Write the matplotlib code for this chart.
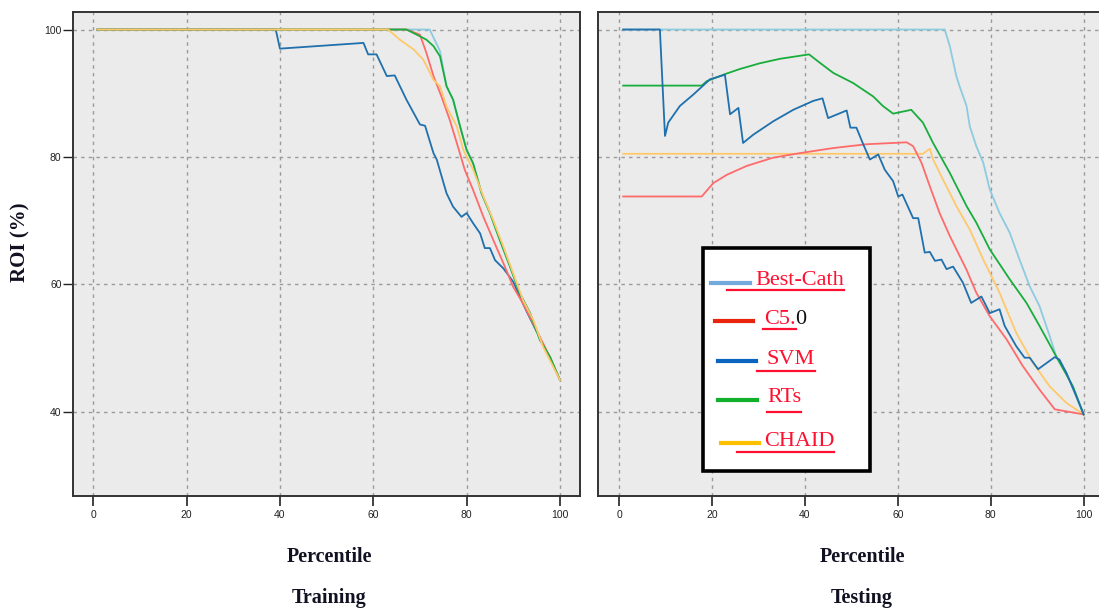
import matplotlib
matplotlib.use("Agg")
import matplotlib.pyplot as plt
from matplotlib.lines import Line2D
from matplotlib.patches import Rectangle

# ---------------- data ----------------
series_names = ["Best-Cath", "C5.0", "SVM", "RTs", "CHAID"]
x_ticks = [0, 20, 40, 60, 80, 100]
y_ticks = [40, 60, 80, 100]
y_tick_labels = ["40", "60", "80", "100"]

# Training panel
train_best_x = [0.9, 72.1, 74.3, 75.7, 77.1, 78.6, 80.0, 81.4, 83.2, 85.0, 87.1, 89.3, 91.4, 93.6, 95.7, 97.9, 100]
train_best_y = [100, 100, 96.6, 91.1, 89.0, 84.8, 81.1, 79.0, 74.3, 71.2, 67.0, 62.8, 58.6, 55.5, 51.3, 48.6, 45.0]

train_c50_x = [0.9, 67.1, 70.0, 71.4, 72.9, 74.6, 76.4, 77.9, 79.6, 81.4, 83.6, 85.7, 87.9, 90.0, 92.1, 95.0, 97.1, 100]
train_c50_y = [100, 100, 99.2, 96.3, 92.7, 89.5, 85.8, 82.2, 78.0, 74.8, 70.6, 67.0, 63.3, 59.6, 57.0, 52.8, 49.7, 45.0]

train_svm_x = [0.9, 39.1, 40.0, 57.9, 58.9, 60.7, 62.9, 64.6, 67.1, 70.0, 71.1, 72.9, 73.6, 75.7, 77.1, 78.9, 80.0,
               81.4, 82.9, 83.9, 85.0, 86.1, 87.9, 90.0, 91.4, 92.9, 95.0]
train_svm_y = [100, 100, 97.0, 97.9, 96.1, 96.1, 92.7, 92.8, 89.0, 85.1, 84.9, 80.6, 79.6, 74.3, 72.2, 70.6, 71.2,
               69.6, 68.0, 65.7, 65.7, 63.8, 62.5, 60.4, 58.1, 55.7, 52.6]

train_rts_x = [0.9, 67.1, 69.3, 71.4, 72.9, 74.3, 75.7, 77.1, 78.6, 80.0, 81.4, 83.2, 85.0, 87.1, 89.3, 91.4, 93.6, 95.7, 97.9, 100]
train_rts_y = [100, 100, 99.2, 98.4, 97.4, 95.8, 91.1, 89.0, 84.8, 81.1, 79.0, 74.3, 71.2, 67.0, 62.8, 58.6, 55.5, 51.3, 48.6, 45.0]

train_chaid_x = [0.9, 63.2, 65.7, 68.6, 70.7, 72.9, 74.3, 75.7, 77.9, 79.3, 81.4, 83.6, 85.7, 87.9, 90.0, 92.1, 94.3, 96.4, 100]
train_chaid_y = [100, 100, 98.4, 96.9, 95.3, 92.1, 91.1, 87.9, 84.8, 81.1, 78.0, 73.8, 70.1, 65.9, 61.7, 57.5, 54.4, 50.2, 45.0]

# Testing panel
test_best_x = [0.9, 70.1, 71.2, 72.6, 73.3, 74.8, 75.5, 76.9, 78.4, 79.8, 81.9, 84.1, 86.2, 88.4, 90.5, 92.7, 94.1, 96.3, 100]
test_best_y = [100, 100, 97.4, 92.7, 91.1, 88.0, 84.8, 81.7, 79.1, 74.9, 71.2, 68.1, 63.9, 59.7, 56.6, 51.9, 48.7, 46.1, 39.6]

test_c50_x = [0.9, 17.8, 20.3, 23.2, 27.5, 33.2, 38.9, 46.1, 53.3, 61.9, 63.3, 65.1, 66.9, 69.0, 71.2, 74.8, 76.9,
              79.8, 83.4, 86.9, 90.5, 93.8, 100]
test_c50_y = [73.8, 73.8, 75.9, 77.2, 78.6, 79.9, 80.6, 81.4, 82.0, 82.3, 81.7, 79.1, 75.4, 71.2, 67.6, 62.3, 58.7,
              55.0, 51.4, 47.2, 43.5, 40.4, 39.6]

test_svm_x = [0.9, 8.8, 9.9, 10.6, 13.1, 16.0, 19.6, 22.8, 23.9, 25.7, 26.7, 28.9, 33.2, 37.5, 41.8, 43.8, 45.0,
              49.0, 49.8, 51.1, 52.5, 54.0, 55.8, 57.2, 59.0, 60.1, 61.0, 63.3, 64.4, 65.8, 66.9, 68.0, 69.4,
              70.5, 71.9, 74.0, 75.8, 78.0, 79.8, 81.9, 83.0, 85.5, 87.3, 88.4, 90.2, 93.8, 94.8, 96.3, 98.4, 100]
test_svm_y = [100, 100, 83.3, 85.4, 88.0, 89.8, 92.2, 92.9, 86.7, 87.7, 82.2, 83.5, 85.6, 87.4, 88.8, 89.2, 86.1,
              87.3, 84.6, 84.6, 82.1, 79.6, 80.4, 78.0, 76.2, 73.8, 74.1, 70.4, 70.4, 65.0, 65.1, 63.7, 63.9,
              62.4, 62.8, 60.3, 57.1, 58.1, 55.5, 56.1, 53.5, 50.3, 48.5, 48.5, 46.7, 48.6, 48.2, 46.1, 42.5, 39.6]

test_rts_x = [0.9, 17.8, 18.9, 22.8, 26.0, 30.3, 34.6, 38.2, 40.9, 43.2, 46.1, 50.4, 54.7, 56.8, 59.0, 62.9, 65.4,
              67.6, 71.2, 74.8, 76.9, 79.8, 84.1, 87.7, 90.5, 94.1, 97.7, 100]
test_rts_y = [91.2, 91.2, 91.9, 93.0, 93.8, 94.7, 95.4, 95.8, 96.1, 94.8, 93.2, 91.6, 89.5, 88.0, 86.8, 87.4, 85.4,
              82.2, 77.5, 72.3, 69.7, 65.5, 60.8, 57.1, 53.5, 48.7, 44.0, 39.6]

test_chaid_x = [0.9, 65.4, 66.9, 67.6, 69.7, 72.6, 75.5, 78.4, 81.9, 85.5, 89.1, 92.7, 96.3, 100]
test_chaid_y = [80.5, 80.5, 81.3, 79.6, 76.5, 72.3, 68.6, 63.9, 58.7, 52.4, 47.7, 44.0, 41.4, 39.6]

# ---------------- style ----------------
line_colors = {"Best-Cath": "#8ccbe0", "C5.0": "#ff6b6b", "SVM": "#1f70ac", "RTs": "#18ad3c", "CHAID": "#ffc96b"}
legend_colors = {"Best-Cath": "#74a9dc", "C5.0": "#e8240c", "SVM": "#0a64c0", "RTs": "#10b02a", "CHAID": "#ffc000"}
legend_red = "#ff1030"

W, H = 1099, 613
fig = plt.figure(figsize=(W / 100, H / 100), dpi=100)
fig.patch.set_facecolor("white")

def fx(px):
    return px / W

def fy(py):
    return (H - py) / H

ax_bottom = fy(496)
ax_height = (496 - 12) / H
ax1 = fig.add_axes([fx(72.7), ax_bottom, (580 - 72.7) / W, ax_height])
ax2 = fig.add_axes([fx(598), ax_bottom, 507 / W, ax_height])

tick_font = ["Liberation Sans Narrow", "Liberation Sans", "DejaVu Sans"]

for ax, xl in ((ax1, (-4.41, 104.3)), (ax2, (-4.52, 104.6))):
    ax.set_facecolor("#ebebeb")
    ax.set_xlim(*xl)
    ax.set_ylim(26.8, 102.75)
    ax.set_xticks(x_ticks)
    ax.set_yticks(y_ticks)
    ax.set_yticklabels(y_tick_labels)
    ax.grid(True, color="#9a9a9a", linestyle=(0, (2.5, 3)), linewidth=1.0)
    ax.set_axisbelow(True)
    for s in ax.spines.values():
        s.set_color("#333333")
        s.set_linewidth(1.4)
    ax.tick_params(axis="x", direction="out", length=7, width=1.2, pad=3, colors="#222222", labelsize=7.5)
    ax.tick_params(axis="y", direction="out", length=7, width=1.0, pad=1, colors="#222222", labelsize=7.5)
    for lab in ax.get_xticklabels() + ax.get_yticklabels():
        lab.set_family(tick_font)

ax2.tick_params(axis="y", left=False, labelleft=False)

lw = 1.3
ax1.plot(train_best_x, train_best_y, color=line_colors["Best-Cath"], lw=lw)
ax1.plot(train_svm_x, train_svm_y, color=line_colors["SVM"], lw=lw)
ax1.plot(train_c50_x, train_c50_y, color=line_colors["C5.0"], lw=lw)
ax1.plot(train_rts_x, train_rts_y, color=line_colors["RTs"], lw=lw)
ax1.plot(train_chaid_x, train_chaid_y, color=line_colors["CHAID"], lw=lw)

ax2.plot(test_best_x, test_best_y, color=line_colors["Best-Cath"], lw=lw)
ax2.plot(test_chaid_x, test_chaid_y, color=line_colors["CHAID"], lw=lw)
ax2.plot(test_c50_x, test_c50_y, color=line_colors["C5.0"], lw=lw)
ax2.plot(test_rts_x, test_rts_y, color=line_colors["RTs"], lw=lw)
ax2.plot(test_svm_x, test_svm_y, color=line_colors["SVM"], lw=lw)

serif = ["Liberation Serif", "DejaVu Serif"]
fig.text(fx(20), fy(242), "ROI (%)", rotation=90, ha="center", va="center",
         fontsize=15, fontweight="bold", family=serif, color="#111122")
for cx, sub in ((329, "Training"), (862, "Testing")):
    fig.text(fx(cx), fy(557), "Percentile", ha="center", va="center",
             fontsize=14.5, fontweight="bold", family=serif, color="#111122")
    fig.text(fx(cx), fy(598), sub, ha="center", va="center",
             fontsize=14.5, fontweight="bold", family=serif, color="#111122")

# ---------------- custom legend box ----------------
box = Rectangle((fx(703), fy(471)), (870 - 703) / W, (471 - 248) / H, transform=fig.transFigure,
                facecolor="white", edgecolor="black", linewidth=2.6, zorder=10)
fig.add_artist(box)

# (line start px, line end px, line y px, text x px, underline start px, underline y px)
legend_layout = {
    "Best-Cath": (711, 750, 283, 755, 727, 290),
    "C5.0": (715, 753, 321, 764, 763, 329),
    "SVM": (718, 756, 361, 767, 757, 371),
    "RTs": (718, 757, 400, 767, 767, 412),
    "CHAID": (721, 759, 443, 764, 737, 452),
}

texts = {}
for name in series_names:
    l0, l1, ly, tx, u0, uy = legend_layout[name]
    fig.add_artist(Line2D([fx(l0), fx(l1)], [fy(ly), fy(ly)], transform=fig.transFigure,
                          color=legend_colors[name], lw=3, zorder=11))
    label = "C5." if name == "C5.0" else name
    t = fig.text(fx(tx), fy(ly - 2), label, ha="left", va="center", fontsize=16,
                 family=serif, color=legend_red, zorder=12)
    texts[name] = t

fig.canvas.draw()
renderer = fig.canvas.get_renderer()
for name in series_names:
    l0, l1, ly, tx, u0, uy = legend_layout[name]
    bb = texts[name].get_window_extent(renderer)
    x_end = bb.x1
    fig.add_artist(Line2D([fx(u0), x_end / W], [fy(uy), fy(uy)], transform=fig.transFigure,
                          color=legend_red, lw=1.6, zorder=12))
    if name == "C5.0":
        fig.text(x_end / W, fy(ly - 2), "0", ha="left", va="center", fontsize=16,
                 family=serif, color="#111111", zorder=12)

fig.savefig("out.png", dpi=100, facecolor="white")
